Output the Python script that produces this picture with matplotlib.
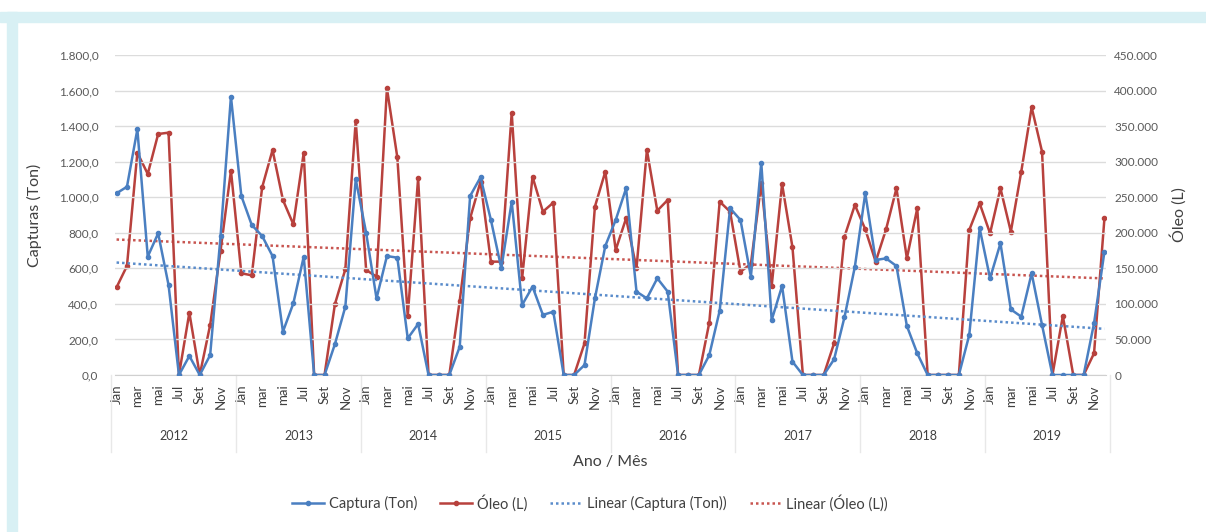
import numpy as np
import matplotlib.pyplot as plt
import matplotlib.patches as mpatches
from matplotlib.ticker import FuncFormatter, MultipleLocator
import matplotlib.transforms as mtransforms

plt.rcParams['font.family'] = ['Lato', 'DejaVu Sans']

years = ['2012', '2013', '2014', '2015', '2016', '2017', '2018', '2019']
months = ['Jan', 'fev', 'mar', 'abr', 'mai', 'jun', 'Jul', 'ago', 'Set', 'out', 'Nov', 'dez']

captura = [
    1022, 1059, 1382, 666, 797, 506, 0, 107, 0, 112, 780, 1566,
    1007, 844, 782, 669, 244, 403, 666, 0, 0, 174, 384, 1101,
    800, 431, 669, 660, 206, 287, 0, 0, 0, 159, 1007, 1112,
    872, 600, 975, 394, 497, 338, 356, 0, 0, 56, 431, 726,
    872, 1050, 469, 431, 544, 469, 0, 0, 0, 112, 362, 938,
    872, 553, 1194, 309, 501, 75, 0, 0, 0, 88, 325, 609,
    1022, 647, 656, 613, 276, 122, 0, 0, 0, 0, 225, 825,
    544, 741, 369, 328, 572, 281, 0, 0, 0, 0, 291, 694,
]
oleo = [
    123300, 153300, 312600, 282700, 338900, 340800, 0, 87600, 0, 70300, 174800, 287300,
    143000, 140200, 263900, 316400, 246100, 211900, 312600, 0, 0, 99800, 148600, 357600,
    147700, 138300, 403200, 306100, 83000, 276600, 0, 0, 0, 104500, 220300, 271900,
    159400, 159400, 368900, 135900, 278900, 229700, 242400, 0, 0, 44500, 236700, 285900,
    175800, 220300, 150000, 316400, 231100, 246100, 0, 0, 0, 73600, 243800, 229700,
    145300, 156100, 269500, 125200, 268600, 179500, 0, 0, 0, 44500, 194500, 239100,
    204900, 159400, 204900, 262500, 164100, 234400, 0, 0, 0, 0, 203900, 241400,
    199200, 262500, 201600, 285900, 376400, 314000, 0, 83000, 0, 0, 30500, 220300,
]

BLUE = '#4a7fc1'
RED = '#b8413d'
GRAY = '#595959'

x = np.arange(len(captura))
cap = np.array(captura, dtype=float)
ole = np.array(oleo, dtype=float)

fig = plt.figure(figsize=(12.06, 5.32), dpi=100)
# light blue frame of the source page
fig.patches.append(mpatches.Rectangle((0, 1 - 22 / 532), 1, 10 / 532, transform=fig.transFigure,
                                      color='#d8f0f4', zorder=0))
fig.patches.append(mpatches.Rectangle((7 / 1206, 0), 10 / 1206, 1 - 12 / 532, transform=fig.transFigure,
                                      color='#d8f0f4', zorder=0))

ax = fig.add_axes([115 / 1206, 1 - 375 / 532, (1106 - 115) / 1206, 320 / 532])
ax2 = ax.twinx()

ax.set_ylim(0, 1800)
ax2.set_ylim(0, 450000)
ax.set_xlim(-0.15, len(x) - 0.85)
ax.yaxis.set_major_locator(MultipleLocator(200))
ax2.yaxis.set_major_locator(MultipleLocator(50000))
ax.yaxis.set_major_formatter(FuncFormatter(lambda v, p: f'{v:,.1f}'.replace(',', 'X').replace('.', ',').replace('X', '.')))
ax2.yaxis.set_major_formatter(FuncFormatter(lambda v, p: f'{v:,.0f}'.replace(',', '.')))
ax.grid(axis='y', color='#dcdcdc', lw=1)
ax.set_axisbelow(True)

for a in (ax, ax2):
    for s in a.spines.values():
        s.set_visible(False)
    a.tick_params(length=0, colors=GRAY, labelsize=8.5)
ax.tick_params(axis='y', pad=12)
ax2.tick_params(axis='y', pad=6)
ax.spines['bottom'].set_visible(True)
ax.spines['bottom'].set_color('#d0d0d0')

# month ticks
ax.set_xticks(x[::2])
ax.set_xticklabels([months[i % 12] for i in x[::2]], rotation=90, fontsize=9.5, color='#404040')
ax.tick_params(axis='x', pad=7)

# series
l2, = ax2.plot(x, ole, color=RED, lw=1.8, marker='o', ms=3, zorder=3)
l1, = ax.plot(x, cap, color=BLUE, lw=1.8, marker='o', ms=3, zorder=3)
ax.set_zorder(ax2.get_zorder() + 1)
ax.patch.set_visible(False)

# linear trends
c1 = np.polyfit(x, cap, 1)
c2 = np.polyfit(x, ole, 1)
l3, = ax.plot(x, np.polyval(c1, x), color='#5a8ccb', lw=1.8, ls=(0, (1, 1.2)), zorder=2)
l4, = ax2.plot(x, np.polyval(c2, x), color='#c85550', lw=1.8, ls=(0, (1, 1.2)), zorder=2)

# year labels and separators
trans = mtransforms.blended_transform_factory(ax.transData, ax.transAxes)
for i, yr in enumerate(years):
    ax.text(i * 12 + 5.5, -0.19, yr, transform=trans, ha='center', va='center', fontsize=9, color='#404040')
for i in range(len(years) + 1):
    xs = i * 12 - 0.5
    ax.plot([xs, xs], [0, -0.24], transform=trans, color='#e8e8e8', lw=1, clip_on=False)

ax.set_ylabel('Capturas (Ton)', fontsize=11.5, color='#404040', labelpad=12)
ax2.set_ylabel('Óleo (L)', fontsize=11.5, color='#404040', labelpad=8)
ax.set_xlabel('Ano / Mês', fontsize=11.5, color='#404040', labelpad=33)

fig.legend([l1, l2, l3, l4], ['Captura (Ton)', 'Óleo (L)', 'Linear (Captura (Ton))', 'Linear (Óleo (L))'],
           loc='center', bbox_to_anchor=(590 / 1206, 1 - 503 / 532), ncol=4, frameon=False,
           fontsize=10.5, labelcolor='#404040', handlelength=2.2, columnspacing=1.6, handletextpad=0.3)

fig.savefig('out.png', dpi=100)
